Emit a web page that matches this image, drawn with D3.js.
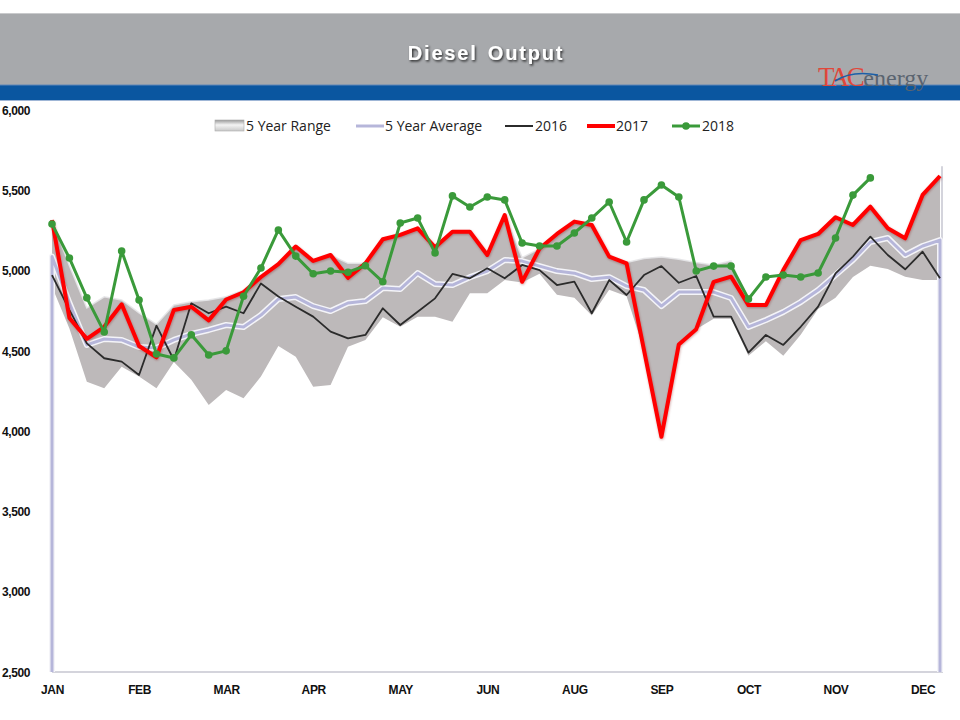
<!DOCTYPE html>
<html><head><meta charset="utf-8">
<script src="https://cdn.jsdelivr.net/npm/d3@7"></script>
<style>
body{margin:0;background:#fff;}
svg{display:block;}
</style></head>
<body>
<svg id="c" width="960" height="720"></svg>
<script>
// ---- data ----
const monthLabels = ["JAN","FEB","MAR","APR","MAY","JUN","AUG","SEP","OCT","NOV","DEC"];
const monthWeeks  = [0,5,10,15,20,25,30,35,40,45,50];
const yTicks = [2500,3000,3500,4000,4500,5000,5500,6000];
const weeks = d3.range(52);

const rangeMax = [5315,5030,4767,4837,4817,4736,4665,4786,4806,4817,
  4837,4877,4972,5040,5153,5066,5097,5045,5045,5195,
  5222,5263,5145,5242,5242,5097,5346,5080,5137,5228,
  5305,5284,5087,5050,5075,5085,5070,5050,5035,5060,
  4800,4790,5003,5190,5228,5332,5284,5398,5263,5201,
  5471,5589];
const rangeMin = [4900,4640,4308,4267,4401,4340,4267,4430,4320,4163,
  4256,4205,4340,4530,4464,4277,4287,4526,4568,4710,
  4650,4713,4713,4682,4858,4858,4941,4925,4980,4850,
  4830,4720,4880,4840,4505,3965,4540,4635,4700,4700,
  4470,4560,4470,4600,4760,4830,4960,5030,5010,4962,
  4941,4941];
const avg5 = [5087,4798,4537,4574,4568,4524,4518,4568,4605,4630,
  4661,4649,4723,4823,4835,4779,4748,4798,4810,4891,
  4885,4984,4916,4910,4959,4997,5066,5059,5028,4997,
  4984,4947,4959,4903,4879,4779,4866,4866,4866,4829,
  4649,4692,4742,4804,4879,4972,5066,5178,5203,5097,
  5153,5190];
const y2016 = [4972,4755,4547,4454,4433,4350,4657,4443,4796,4734,
  4775,4734,4920,4838,4775,4713,4620,4578,4599,4765,
  4661,4744,4827,4979,4952,5014,4952,5035,5003,4910,
  4931,4734,4941,4848,4972,5028,4924,4966,4713,4713,
  4489,4599,4537,4650,4775,4983,5087,5211,5097,5008,
  5118,4952];
const y2017 = [5315,4705,4575,4650,4790,4530,4460,4755,4775,4690,
  4820,4865,4960,5040,5150,5060,5097,4955,5045,5195,
  5222,5263,5145,5242,5242,5097,5346,4930,5137,5228,
  5305,5284,5087,5045,4505,3965,4540,4635,4930,4962,
  4785,4785,5003,5190,5228,5332,5284,5398,5263,5201,
  5471,5589];
const y2018 = [5290,5078,4830,4617,5122,4817,4480,4456,4600,4474,
  4500,4840,5016,5253,5090,4980,4997,4990,5030,4930,
  5296,5327,5110,5465,5396,5458,5440,5172,5153,5153,
  5234,5327,5427,5178,5440,5533,5458,4997,5028,5028,
  4823,4960,4972,4960,4985,5203,5470,5577];

// ---- layout ----
const svg = d3.select("#c");
const x = d3.scaleLinear().domain([0,51]).range([52,940]);
const y = d3.scaleLinear().domain([2500,6000]).range([672,110]);

const defs = svg.append("defs");
const tsh = defs.append("filter").attr("id","tsh").attr("x","-10%").attr("y","-30%").attr("width","130%").attr("height","180%");
tsh.append("feDropShadow").attr("dx",1.2).attr("dy",1.5).attr("stdDeviation",0.8).attr("flood-color","#000").attr("flood-opacity",0.75);
const glow = defs.append("filter").attr("id","rglow").attr("x","-5%").attr("y","-5%").attr("width","110%").attr("height","110%");
glow.append("feDropShadow").attr("dx",0.5).attr("dy",1).attr("stdDeviation",0.8).attr("flood-color","#700").attr("flood-opacity",0.35);
const sw = defs.append("linearGradient").attr("id","swg").attr("x1",0).attr("y1",0).attr("x2",0).attr("y2",1);
sw.append("stop").attr("offset","0%").attr("stop-color","#9a9a9a");
sw.append("stop").attr("offset","45%").attr("stop-color","#f4f4f4");
sw.append("stop").attr("offset","100%").attr("stop-color","#c8c8c8");

// header
svg.append("rect").attr("x",0).attr("y",13).attr("width",960).attr("height",72).attr("fill","#a7a9ac");
svg.append("line").attr("x1",0).attr("x2",960).attr("y1",13.5).attr("y2",13.5).attr("stroke","#c9cacc").attr("stroke-width",1);
svg.append("rect").attr("x",0).attr("y",85).attr("width",960).attr("height",15).attr("fill","#0a56a0");
svg.append("line").attr("x1",0).attr("x2",960).attr("y1",85).attr("y2",85).attr("stroke","#5f86b8").attr("stroke-width",1);
svg.append("line").attr("x1",0).attr("x2",960).attr("y1",100.5).attr("y2",100.5).attr("stroke","#9fb6d6").attr("stroke-width",1);
svg.append("text").attr("x",486).attr("y",60).attr("text-anchor","middle")
  .attr("font-family","Liberation Sans, Arial, sans-serif").attr("font-weight","bold")
  .attr("font-size",20).attr("letter-spacing",1.8).attr("word-spacing",3).attr("fill","#fff")
  .attr("filter","url(#tsh)").text("Diesel Output");
// logo
const logo = svg.append("text").attr("x",818).attr("y",86)
  .attr("font-family","Liberation Serif, Times New Roman, serif").attr("font-size",27);
logo.append("tspan").attr("fill","#e0473a").attr("letter-spacing",-2.5).text("TAC");
logo.append("tspan").attr("fill","#5a6470").attr("font-size",24).attr("dx",1).text("energy");
svg.append("path").attr("d","M835,81 Q852,70 878,75").attr("fill","none").attr("stroke","#1b5fa8").attr("stroke-width",1.6);

// range area
const area = d3.area().x((d,i)=>x(i)).y0((d,i)=>y(rangeMin[i])).y1((d,i)=>y(rangeMax[i]));
svg.append("path").datum(weeks).attr("d",area).attr("fill","#bdb9ba");
svg.append("path").datum(weeks)
  .attr("d",d3.line().x((d,i)=>x(i)).y((d,i)=>y(rangeMax[i])))
  .attr("fill","none").attr("stroke","#e6e6e8").attr("stroke-width",1.5).attr("opacity",0.9);

// frame
svg.append("path").attr("d",`M${x(0)},${y(2500)}H${x(51)+2}V${y(5650)}`)
  .attr("fill","none").attr("stroke","#d4d4dc").attr("stroke-width",2);

// 5 year average with drop lines at both ends
const avgLine = d3.line().x(d=>d[0]).y(d=>d[1]);
const avgPts = [[x(0),y(2500)]].concat(avg5.map((v,i)=>[x(i),y(v)])).concat([[x(51),y(2500)]]);
svg.append("path").attr("d",avgLine(avgPts)).attr("fill","none").attr("stroke","#f4f4f8").attr("stroke-width",6).attr("stroke-linejoin","round");
svg.append("path").attr("d",avgLine(avgPts)).attr("fill","none").attr("stroke","#b6b6da").attr("stroke-width",3).attr("stroke-linejoin","round");

const line = d3.line().x((d,i)=>x(i)).y(d=>y(d));
svg.append("path").datum(y2016).attr("d",line).attr("fill","none").attr("stroke","#2b2b2b").attr("stroke-width",1.8).attr("stroke-linejoin","round");
svg.append("path").datum(y2017).attr("d",line).attr("fill","none").attr("stroke","#ff0000").attr("stroke-width",4).attr("stroke-linejoin","round").attr("filter","url(#rglow)");
svg.append("path").datum(y2018).attr("d",line).attr("fill","none").attr("stroke","#3a9a3a").attr("stroke-width",3).attr("stroke-linejoin","round");
svg.append("g").selectAll("circle").data(y2018).join("circle")
  .attr("cx",(d,i)=>x(i)).attr("cy",d=>y(d)).attr("r",3.8).attr("fill","#3a9a3a");

// axes
const yAxis = svg.append("g").attr("transform","translate(0,0)")
  .call(d3.axisLeft(y).tickValues(yTicks).tickFormat(d3.format(",")).tickSize(0));
yAxis.select(".domain").remove();
yAxis.selectAll("text").attr("x",2).attr("text-anchor","start").attr("dy","0.35em")
  .attr("font-family","Liberation Sans, Arial, sans-serif").attr("font-weight","bold")
  .attr("font-size",12).attr("letter-spacing",-0.4).attr("fill","#111");

const xAxis = svg.append("g").attr("transform",`translate(0,${y(2500)})`)
  .call(d3.axisBottom(x).tickValues(monthWeeks).tickFormat((d,i)=>monthLabels[i]).tickSize(0));
xAxis.select(".domain").remove();
xAxis.selectAll("text").attr("y",13).attr("dy","0.71em")
  .attr("font-family","Liberation Sans, Arial, sans-serif").attr("font-weight","bold")
  .attr("font-size",12).attr("letter-spacing",-0.4).attr("fill","#111");

// legend
const lg = svg.append("g").attr("font-family","Open Sans, Liberation Sans, sans-serif").attr("font-size",14).attr("fill","#222");
const ly = 126;
lg.append("rect").attr("x",215).attr("y",ly-6).attr("width",29).attr("height",11).attr("fill","url(#swg)").attr("stroke","#aaa").attr("stroke-width",0.6);
lg.append("text").attr("x",246).attr("y",ly+5).text("5 Year Range");
lg.append("line").attr("x1",356).attr("x2",384).attr("y1",ly).attr("y2",ly).attr("stroke","#b6b6da").attr("stroke-width",3);
lg.append("text").attr("x",385).attr("y",ly+5).text("5 Year Average");
lg.append("line").attr("x1",505).attr("x2",533).attr("y1",ly).attr("y2",ly).attr("stroke","#2b2b2b").attr("stroke-width",2);
lg.append("text").attr("x",535).attr("y",ly+5).text("2016");
lg.append("line").attr("x1",587).attr("x2",615).attr("y1",ly).attr("y2",ly).attr("stroke","#ff0000").attr("stroke-width",4);
lg.append("text").attr("x",616).attr("y",ly+5).text("2017");
lg.append("line").attr("x1",672).attr("x2",700).attr("y1",ly).attr("y2",ly).attr("stroke","#3a9a3a").attr("stroke-width",3);
lg.append("circle").attr("cx",686).attr("cy",ly).attr("r",3.8).attr("fill","#3a9a3a");
lg.append("text").attr("x",702).attr("y",ly+5).text("2018");
</script>
</body></html>
